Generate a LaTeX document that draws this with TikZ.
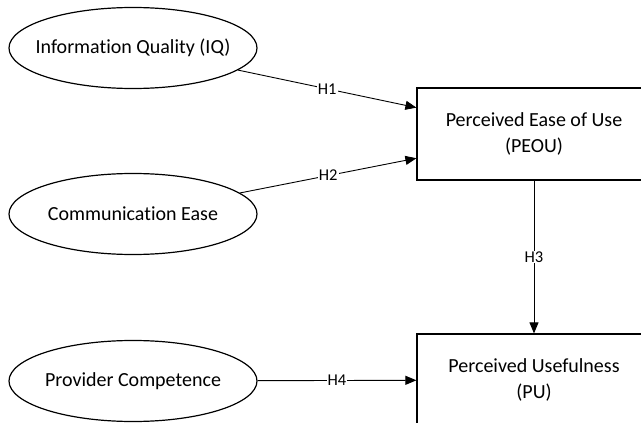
\documentclass[tikz,border=0pt]{standalone}
\usepackage{fontspec}
\setmainfont{Carlito}[Ligatures=NoCommon]
\usetikzlibrary{shapes.geometric,arrows.meta,calc}
\newcommand{\ctext}[1]{\makebox[0pt]{#1}}
\newcommand{\twolines}[2]{\raisebox{-3pt}{\begin{tabular}{@{}c@{}}#1\\#2\end{tabular}}}
\begin{document}
\begin{tikzpicture}[x=1pt,y=-1pt,
  construct/.style={ellipse,draw,line width=1.2pt,minimum width=248pt,minimum height=81pt,inner sep=0pt,font=\fontsize{20}{27}\selectfont},
  outcome/.style={rectangle,draw,line width=1.2pt,minimum width=234pt,minimum height=92pt,inner sep=0pt,font=\fontsize{20}{26}\selectfont},
  conn/.style={line width=0.9pt,-{Triangle[length=11pt,width=9pt]}},
  lbl/.style={fill=white,inner sep=1pt,font=\fontsize{16.5}{18}\selectfont}]
\useasboundingbox[fill=white] (0,0) rectangle (641,423);
\node[construct] (iq) at (133,48) {\ctext{Information Quality (IQ)}};
\node[construct] (ce) at (133,214) {\ctext{Communication Ease}};
\node[construct] (pc) at (133,381) {\ctext{Provider Competence}};
\node[outcome] (peou) at (534,134) {\twolines{Perceived Ease of Use}{(PEOU)}};
\node[outcome] (pu) at (534,380) {\twolines{Perceived Usefulness}{(PU)}};
\coordinate (t1) at ($(peou.north west)!0.217!(peou.south west)$);
\coordinate (t2) at ($(peou.north west)!0.76!(peou.south west)$);
\draw[conn] (iq) -- node[lbl]{H1} (t1);
\draw[conn] (ce) -- node[lbl]{H2} (t2);
\draw[conn] (peou) -- node[lbl]{H3} (pu);
\draw[conn] (pc) -- node[lbl]{H4} (pu);
\end{tikzpicture}
\end{document}
